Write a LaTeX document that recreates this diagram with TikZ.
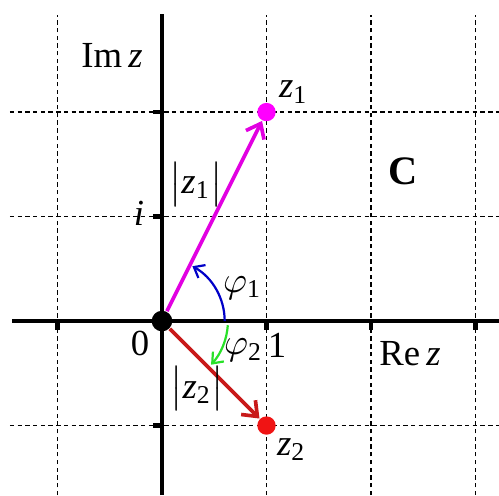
\documentclass[tikz,border=0pt]{standalone}
\usepackage{fontspec}
\setmainfont{Liberation Serif}
\usetikzlibrary{arrows.meta}
\definecolor{vmag}{RGB}{225,0,225}
\definecolor{dmag}{RGB}{255,0,255}
\definecolor{vred}{RGB}{200,25,25}
\definecolor{dred}{RGB}{240,20,20}
\definecolor{arcblue}{RGB}{0,0,200}
\definecolor{arcgreen}{RGB}{40,225,40}
\begin{document}
\begin{tikzpicture}[x=1cm,y=1cm,
  gridline/.style={line width=0.45pt, dash pattern=on 1.2pt off 0.9pt},
  axisline/.style={line width=1.1pt},
  axtick/.style={line width=1.2pt},
  dot/.style={circle, inner sep=0pt, minimum size=#1},
  vec/.style={line width=1pt, -{Straight Barb[length=3.5pt,width=5.5pt,line width=1pt]}},
  angarc/.style={line width=0.6pt, -{Straight Barb[length=2.5pt,width=4pt,line width=0.6pt]}},
  lbl/.style={font=\fontsize{10}{12}\selectfont, inner sep=0pt}
]
\useasboundingbox (-1.550,-1.665) rectangle (3.225,3.072);
% grid
\foreach \x in {-1,1,2,3} \draw[gridline] (\x,-1.665) -- (\x,2.93);
\foreach \y in {-1,1,2} \draw[gridline] (-1.455,\y) -- (3.225,\y);
% axes
\draw[axisline] (-1.435,0) -- (3.225,0);
\draw[axisline] (0,-1.665) -- (0,2.94);
% ticks
\foreach \x in {-1,1,2,3} \draw[axtick] (\x,0) -- (\x,-0.085);
\foreach \y in {-1,1,2} \draw[axtick] (0,\y) -- (-0.085,\y);
% points
\node[dot=5.6pt, fill=black] (O) at (0,0) {};
\node[dot=5pt, fill=dmag] (Z1) at (1,2) {};
\node[dot=5pt, fill=dred] (Z2) at (1,-1) {};
% vectors
\draw[vec, vmag] (O) -- (Z1);
\draw[vec, vred] (O) -- (Z2);
% angle arcs
\draw[angarc, arcblue] (0.6,0) arc[start angle=0, end angle=61, radius=0.6];
\draw[angarc, arcgreen] (0.63,-0.04) arc[start angle=-4, end angle=-42, radius=0.63];
% labels
\node[lbl] (imz) at (-0.478,2.545) {Im\,\textit{z}};
\node[lbl] (rez) at (2.373,-0.316) {Re\,\textit{z}};
\node[lbl] (z1l) at (1.26,2.19) {\textit{z}\textsubscript{1}};
\node[lbl] (z2l) at (1.24,-1.23) {\textit{z}\textsubscript{2}};
\node[lbl, font=\fontsize{11}{13}\selectfont\bfseries] (cc) at (2.306,1.435) {C};
\node[lbl] (m1) at (0.325,1.311) {$\bigl|$\textit{z}\textsubscript{1}$\bigr|$};
\node[lbl] (m2) at (0.335,-0.65) {$\bigl|$\textit{z}\textsubscript{2}$\bigr|$};
\node[lbl] (il) at (-0.22,1.03) {\textit{i}};
\node[lbl] (zero) at (-0.21,-0.21) {0};
\node[lbl] (one) at (1.10,-0.23) {1};
\node[lbl] (phi1) at (0.77,0.316) {$\varphi$\textsubscript{1}};
\node[lbl] (phi2) at (0.78,-0.28) {$\varphi$\textsubscript{2}};
\end{tikzpicture}
\end{document}
